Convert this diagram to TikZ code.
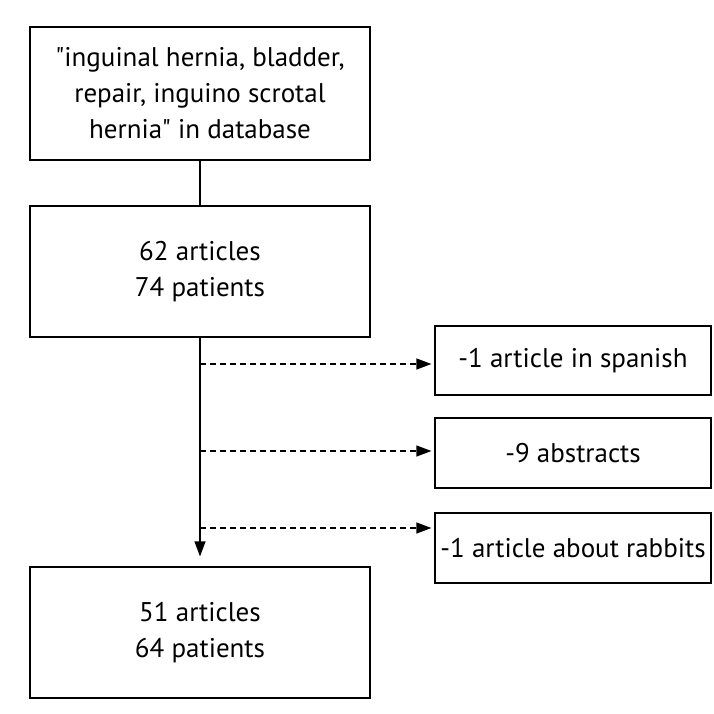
\documentclass[tikz,border=0pt]{standalone}
\usepackage{fontspec}
\setmainfont{PT Sans}[Ligatures=TeXOff]
\usetikzlibrary{arrows.meta}
\begin{document}
\begin{tikzpicture}[x=1pt,y=-1pt,
  box/.style={draw, line width=1.2pt, inner sep=0pt, align=center,
    font=\fontsize{27}{36}\selectfont},
  mainbox/.style={box, minimum width=340pt, minimum height=132pt},
  sidebox/.style={box, minimum width=276pt, minimum height=70pt},
  conn/.style={line width=1.2pt},
  tip/.style={-{Triangle[length=15pt,width=11pt]}},
  dashconn/.style={conn, tip, dash pattern=on 6pt off 4pt, shorten >=3pt}]
\useasboundingbox (0,0) rectangle (714,714);
\node[mainbox, minimum height=133pt] (a) at (200,93.5)
  {"inguinal hernia, bladder,\\repair, inguino scrotal\\hernia" in database};
\node[mainbox, minimum height=131pt] (b) at (200,271.5) {62 articles\\74 patients};
\node[mainbox, minimum height=131pt] (c) at (200,632.5) {51 articles\\64 patients};
\node[sidebox, minimum height=69pt] (r1) at (573,360.5) {-1 article in spanish};
\node[sidebox] (r2) at (573,453) {-9 abstracts};
\node[sidebox] (r3) at (573,548) {-1 article about rabbits};
\coordinate (d1) at (200,364);
\coordinate (d2) at (200,451);
\coordinate (d3) at (200,528);
\draw[conn] (a.south) -- (b.north);
\draw[conn, tip, shorten >=10pt] (b.south) -- (c.north);
\draw[dashconn] (d1) -- (d1 -| r1.west);
\draw[dashconn] (d2) -- (d2 -| r2.west);
\draw[dashconn] (d3) -- (d3 -| r3.west);
\end{tikzpicture}
\end{document}
